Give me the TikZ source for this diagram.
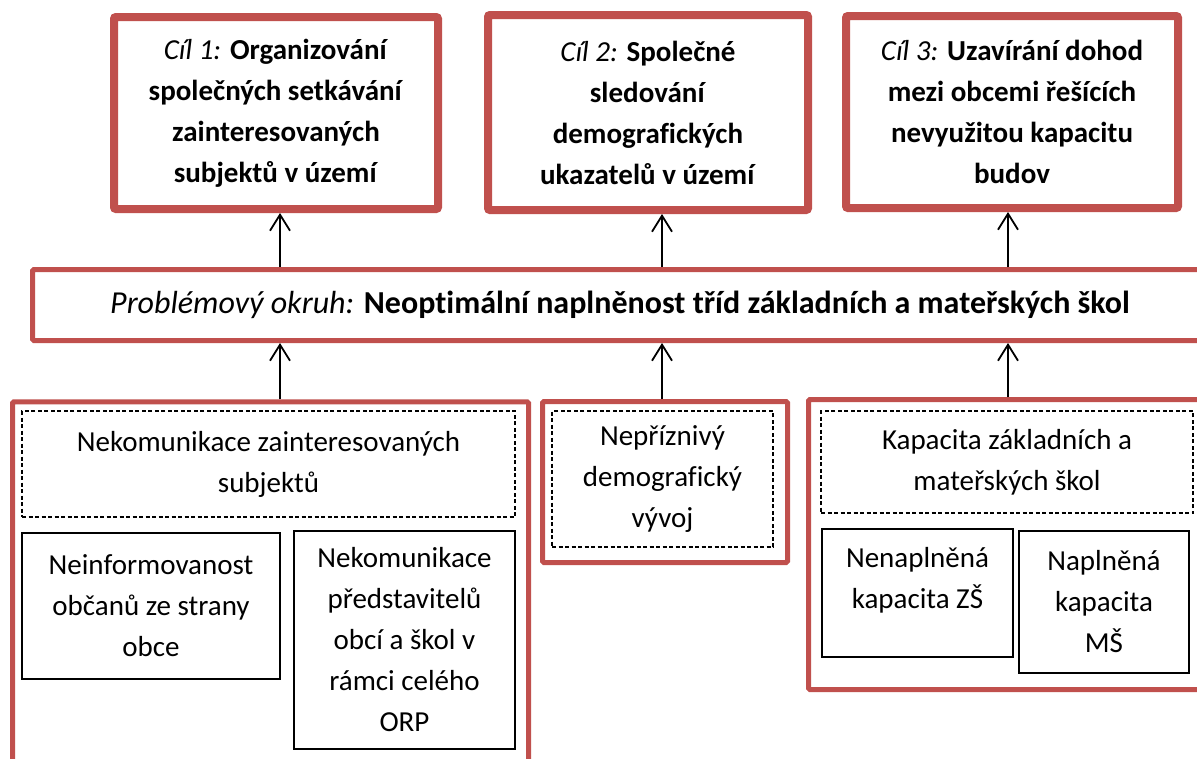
\documentclass[tikz,border=0pt]{standalone}
\usepackage{fontspec}
\setmainfont{Carlito}[Ligatures={NoCommon}]
\usetikzlibrary{arrows.meta}
\definecolor{accred}{RGB}{192,80,77}
\tikzset{
  goalbox/.style={draw=accred, line width=8pt, rounded corners=2pt, fill=white, inner sep=0pt, align=center, font=\fontsize{29}{41}\selectfont},
  barbox/.style={draw=accred, line width=5pt, rounded corners=1.5pt, fill=white, inner sep=0pt, align=center, font=\fontsize{32}{41}\selectfont},
  groupbox/.style={draw=accred, line width=5pt, rounded corners=1.5pt, fill=white, inner sep=0pt},
  dashbox/.style={draw=black, line width=1.4pt, dash pattern=on 4pt off 2.5pt, inner sep=0pt, align=center, font=\fontsize{29}{41}\selectfont},
  solidbox/.style={draw=black, line width=1.6pt, inner sep=0pt, align=center, font=\fontsize{29}{41}\selectfont},
  txt/.style={inner sep=0pt, align=center, font=\fontsize{29}{41}\selectfont},
  arr/.style={draw=black, line width=1.8pt, -{Straight Barb[length=16pt,width=20pt]}}
}
\begin{document}
\begin{tikzpicture}[x=1pt,y=-1pt]
\useasboundingbox (0,0) rectangle (1197,758);
\clip (0,0) rectangle (1197,758);
\fill[white] (0,0) rectangle (1197,758);

% goal boxes
\node[goalbox, minimum width=324pt, minimum height=192pt] (g1) at (276,113)
  {\textit{Cíl 1:} \textbf{Organizování}\\\textbf{společných setkávání}\\\textbf{zainteresovaných}\\\textbf{subjektů v území}};
\node[goalbox, minimum width=320pt, minimum height=195pt] (g2) at (648,112.5)
  {\textit{Cíl 2:} \textbf{Společné}\\\textbf{sledování}\\\textbf{demografických}\\\textbf{ukazatelů v území}};
\node[goalbox, minimum width=332pt, minimum height=192pt] (g3) at (1012,112)
  {\textit{Cíl 3:} \textbf{Uzavírání dohod}\\\textbf{mezi obcemi řešících}\\\textbf{nevyužitou kapacitu}\\\textbf{budov}};

% problem bar
\node[barbox, minimum width=1175pt, minimum height=71pt] (bar) at (620,305)
  {\textit{Problémový okruh:} \textbf{Neoptimální naplněnost tříd základních a mateřských škol}};

% lower groups
\node[groupbox, minimum width=516pt, minimum height=398pt] (lb1) at (270.5,600.75) {};
\node[groupbox, minimum width=245pt, minimum height=161pt] (lb2) at (665,482) {};
\node[groupbox, minimum width=401.5pt, minimum height=290pt] (lb3) at (1009.25,544.5) {};

\node[dashbox, minimum width=493pt, minimum height=106pt] (d1) at (268.5,464)
  {Nekomunikace zainteresovaných\\subjektů};
\node[solidbox, minimum width=258pt, minimum height=146pt] (s1a) at (151,606)
  {Neinformovanost\\občanů ze strany\\obce};
\node[solidbox, minimum width=221pt, minimum height=218pt] (s1b) at (404.5,640)
  {Nekomunikace\\představitelů\\obcí a škol v\\rámci celého\\ORP};

\node[dashbox, minimum width=221pt, minimum height=136pt] (d2) at (662.5,479)
  {Nepříznivý\\demografický\\vývoj};

\node[dashbox, minimum width=372pt, minimum height=102pt] (d3) at (1007,462)
  {Kapacita základních a\\mateřských škol};
\node[solidbox, minimum width=191pt, minimum height=128pt] (s3a) at (917.5,593) {};
\node[txt] (t3a) at (917.5,580) {Nenaplněná\\kapacita ZŠ};
\node[solidbox, minimum width=170pt, minimum height=142pt] (s3b) at (1104,602)
  {Naplněná\\kapacita\\MŠ};

% connectors
\coordinate (a1) at (280,0);
\coordinate (a2) at (662,0);
\coordinate (a3) at (1008,0);
\draw[arr] (a1 |- bar.north) -- (a1 |- g1.south);
\draw[arr] (a2 |- bar.north) -- (a2 |- g2.south);
\draw[arr] (a3 |- bar.north) -- (a3 |- g3.south);
\draw[arr] (a1 |- lb1.north) -- (a1 |- bar.south);
\draw[arr] (a2 |- lb2.north) -- (a2 |- bar.south);
\draw[arr] (a3 |- lb3.north) -- (a3 |- bar.south);
\end{tikzpicture}
\end{document}
